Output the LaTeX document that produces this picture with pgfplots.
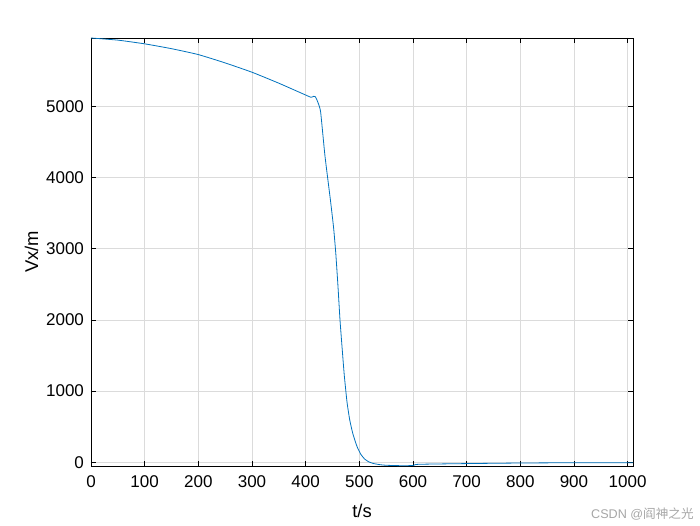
\documentclass[border=0pt]{standalone}
\usepackage{pgfplots}
\pgfplotsset{compat=1.18}
\usepackage{fontspec}
\setmainfont{Liberation Sans}
\newfontfamily\cjk{Noto Sans CJK SC}
\definecolor{mblue}{rgb}{0,0.447,0.741}
\begin{document}
\begin{tikzpicture}
\begin{axis}[
  scale only axis,
  width=271pt, height=214pt,
  xmin=0, xmax=1010, ymin=-52, ymax=5960,
  xtick={0,100,...,1000}, ytick={0,1000,...,5000},
  grid=major,
  major grid style={line width=0.3pt, draw=black!14},
  axis line style={line width=0.35pt, black},
  tick style={line width=0.35pt, black},
  tick align=inside, tickpos=both,
  major tick length=2.5pt,
  tick label style={font=\fontsize{8.5}{10}\selectfont},
  label style={font=\fontsize{9.2}{11}\selectfont},
  /pgf/number format/assume math mode=true,
  scaled ticks=false,
  /pgf/number format/1000 sep={},
  xlabel={t/s}, ylabel={Vx/m},
  xticklabel style={yshift=-1.5pt},
  xlabel style={yshift=-1pt},
  ylabel style={yshift=-3pt},
]
\addplot[mblue, line width=0.4pt, smooth, tension=0.3] coordinates {
(0,5960) (50,5930) (100,5878) (150,5810) (200,5727) (250,5610) (300,5479)
(350,5325) (400,5159) (410,5127) (415,5141) (418,5135) (421,5090) (424,5032)
(428,4915) (436,4303) (446,3693) (452,3300) (456,2950) (460,2500) (464,2000)
(468,1600) (472,1220) (477,850) (482,600) (488,400) (496,216) (503,110)
(510,45) (518,5) (527,-18) (540,-35)
(551,-42) (580,-48) (600,-45) (610,-28) (700,-18) (800,-10) (900,-6) (1010,-5)
};
\end{axis}
\path (current axis.south west) ++(-45.5pt,-29.5pt) coordinate (bbA);
\path (current axis.north east) ++(33.5pt,19pt) coordinate (bbB);
\useasboundingbox (bbA) rectangle (bbB);
\node[anchor=south east, text=black!35, font=\fontsize{6.3}{7}\selectfont, inner sep=0pt] at ([xshift=-3pt,yshift=2pt]bbB |- bbA) {CSDN @{\cjk 阎神之光}};
\end{tikzpicture}
\end{document}
